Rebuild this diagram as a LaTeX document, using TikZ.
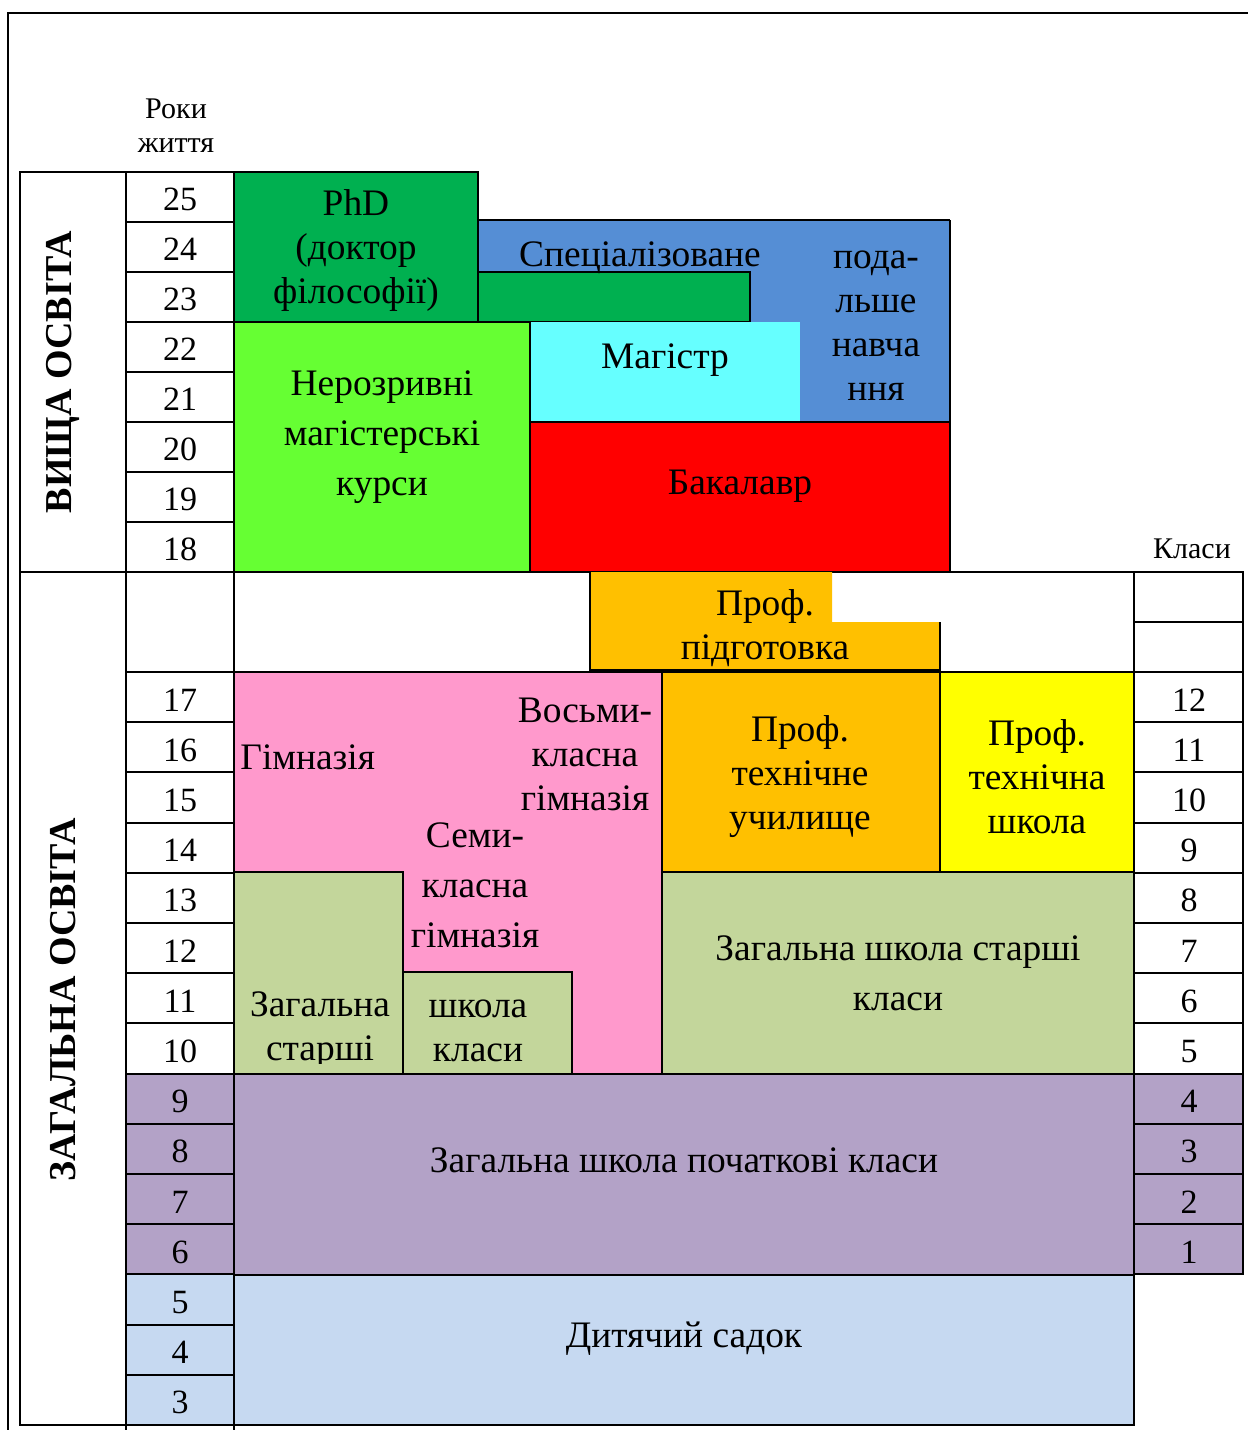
\documentclass[tikz,border=0pt]{standalone}
\usepackage{fontspec}
\setmainfont{Liberation Serif}
\definecolor{phdgreen}{HTML}{00B050}
\definecolor{limegreen}{HTML}{66FF33}
\definecolor{magcyan}{HTML}{66FFFF}
\definecolor{specblue}{HTML}{558ED5}
\definecolor{bachred}{HTML}{FF0000}
\definecolor{proforange}{HTML}{FFC000}
\definecolor{profyellow}{HTML}{FFFF00}
\definecolor{gympink}{HTML}{FF99CC}
\definecolor{schoololive}{HTML}{C3D69B}
\definecolor{primpurple}{HTML}{B3A2C7}
\definecolor{kinderblue}{HTML}{C6D9F1}

\begin{document}
\begin{tikzpicture}[x=0.5pt, y=-0.5pt,
  cell/.style={draw, line width=1pt},
  block/.style={draw, line width=1.4pt},
  lbl/.style={font=\fontsize{18.7}{22}\selectfont, align=center, inner sep=0pt},
  widelbl/.style={font=\fontsize{18.7}{25}\selectfont, align=center, inner sep=0pt},
  num/.style={font=\fontsize{17}{20}\selectfont, inner sep=0pt},
  head/.style={font=\fontsize{15}{17}\selectfont, align=center, inner sep=0pt},
  side/.style={font=\fontsize{19}{22}\selectfont\bfseries, rotate=90, inner sep=0pt}
]
  \useasboundingbox (0,0) rectangle (1248,1430);
  \draw[line width=1.2pt] (8,1430) |- (1248,13);

  % headings
  \node[head] (years) at (176,126) {Роки\\життя};
  \node[head] (grades) at (1192,549) {Класи};

  % left column
  \draw[block] (20,172) rectangle (126,572);
  \draw[block] (20,572) rectangle (126,1425);
  \draw[line width=1pt] (126,1425) -- (126,1430) (234,1425) -- (234,1430);
  \node[side] (higher) at (63,372) {ВИЩА ОСВІТА};
  \node[side] (general) at (63,1000) {ЗАГАЛЬНА ОСВІТА};

  % ages
  \foreach \a [count=\i from 0] in {25,24,23,22,21,20,19,18} {
    \draw[cell] (126,172+50*\i) rectangle (234,222+50*\i);
    \node[num] (age\a) at (180,199+50*\i) {\a};
  }
  \draw[cell] (126,572) rectangle (234,672);
  \foreach \a/\c [count=\i from 0] in {17/white,16/white,15/white,14/white,13/white,12/white,11/white,10/white,
      9/primpurple,8/primpurple,7/primpurple,6/primpurple,5/kinderblue,4/kinderblue,3/kinderblue} {
    \draw[cell, fill=\c] (126,672+50.2*\i) rectangle (234,722.2+50.2*\i);
    \node[num] (age\a) at (180,700+50.2*\i) {\a};
  }

  % grades
  \draw[cell] (1134,572) rectangle (1243,622);
  \draw[cell] (1134,622) rectangle (1243,672);
  \foreach \g/\c [count=\i from 0] in {12/white,11/white,10/white,9/white,8/white,7/white,6/white,5/white,
      4/primpurple,3/primpurple,2/primpurple,1/primpurple} {
    \draw[cell, fill=\c] (1134,672+50.2*\i) rectangle (1243,722.2+50.2*\i);
    \node[num] (grade\g) at (1189,700+50.2*\i) {\g};
  }

  % higher education
  \fill[specblue] (478,220) rectangle (950,422);
  \draw[block] (478,220) -- (950,220);
  \draw[line width=0.6pt] (950,220) -- (950,422);
  \draw[block, fill=phdgreen] (234,172) rectangle (478,322);
  \draw[block, fill=phdgreen] (478,272) rectangle (750,322);
  \fill[magcyan] (530,322) rectangle (800,422);
  \draw[block, fill=bachred] (530,422) rectangle (950,572);
  \draw[block, fill=limegreen] (234,322) rectangle (530,572);

  \node[lbl] (phd) at (356,251) {PhD\\(доктор\\філософії)};
  \node[lbl] (spec) at (640,258) {Спеціалізоване};
  \node[lbl] (further) at (876,326) {пода-\\льше\\навча\\ння};
  \node[widelbl] (integr) at (382,437) {Нерозривні\\магістерські\\курси};
  \node[lbl] (master) at (665,360) {Магістр};
  \node[lbl] (bachelor) at (740,486) {Бакалавр};

  % general education
  \draw[block] (234,572) rectangle (1134,672);
  \fill[proforange] (590,572) -- (832,572) -- (832,622) -- (940,622) -- (940,670) -- (590,670) -- cycle;
  \draw[block] (590,572) -- (590,670) -- (940,670) -- (940,622);
  \node[lbl] (prep) at (765,628) {Проф.\\підготовка};

  \draw[block, fill=gympink] (234,672) rectangle (662,1074);
  \draw[block, fill=schoololive] (234,872) rectangle (403,1074);
  \draw[block, fill=schoololive] (403,972) rectangle (572,1074);
  \draw[block, fill=proforange] (662,672) rectangle (940,872);
  \draw[block, fill=profyellow] (940,672) rectangle (1134,872);
  \draw[block, fill=schoololive] (662,872) rectangle (1134,1074);
  \draw[block, fill=primpurple] (234,1074) rectangle (1134,1275);
  \draw[block, fill=kinderblue] (234,1275) rectangle (1134,1425);

  \node[lbl, anchor=west] (gym) at (240,757) {Гімназія};
  \node[lbl] (gym8) at (585,754) {Восьми-\\класна\\гімназія};
  \node[widelbl] (gym7) at (475,885) {Семи-\\класна\\гімназія};
  \begin{scope}
    \clip (234,872) rectangle (572,1063);
    \node[lbl] (upperl) at (320,1030) {Загальна\\старші};
    \node[lbl] (upperr) at (478,1031) {школа\\класи};
  \end{scope}
  \node[lbl] (techcol) at (800,777) {Проф.\\технічне\\училище};
  \node[lbl] (techsch) at (1037,777) {Проф.\\технічна\\школа};
  \node[widelbl] (upper) at (898,973) {Загальна школа старші\\класи};
  \node[lbl] (primary) at (684,1160) {Загальна школа початкові класи};
  \node[lbl] (kinder) at (684,1339) {Дитячий садок};
\end{tikzpicture}
\end{document}
